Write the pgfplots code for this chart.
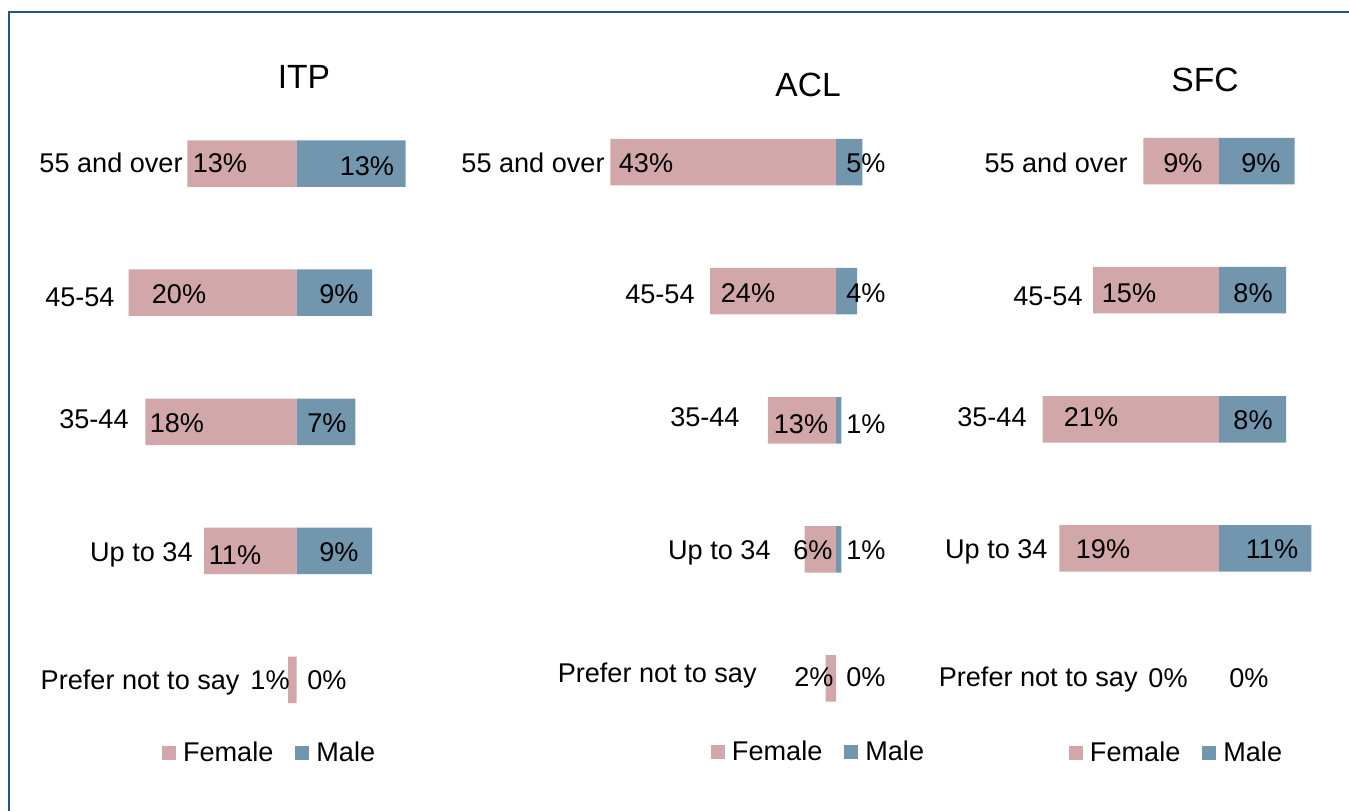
\documentclass[border=0pt]{standalone}
\usepackage{pgfplots}
\pgfplotsset{compat=1.18}
\usepackage{fontspec}
\setmainfont{Liberation Sans}
\definecolor{fem}{RGB}{209,167,169}
\definecolor{mal}{RGB}{113,150,174}
\definecolor{frame}{RGB}{38,86,128}
\newcommand\lf{\fontsize{13.55pt}{16pt}\selectfont}
\newcommand\tf{\fontsize{16.8pt}{20pt}\selectfont}
\pgfplotsset{
  panel/.style={
    xbar, bar shift=0pt, bar width=23.25pt,
    scale only axis, axis lines=none, clip=false,
    ymin=-0.5, ymax=4.5, height=322.75pt,
    xtick=\empty, ytick=\empty,
    anchor=south west,
    legend columns=2,
    legend style={draw=none, fill=none, inner sep=0pt, outer sep=0pt, anchor=west, font=\lf,
      column sep=0pt, cells={anchor=base west}, nodes={inner sep=0pt, text depth=0pt},
      /tikz/every even column/.append style={column sep=11pt}},
    legend image code/.code={\fill[##1] (0pt,0.85pt) rectangle (7pt,7.85pt); \path (10.5pt,0pt);},
  },
}
\tikzset{
  lab/.style={inner sep=0pt, font=\lf, anchor=base, yshift=-4.85pt},
  cat/.style={inner sep=0pt, font=\lf, anchor=base east, yshift=-4.85pt},
  ttl/.style={inner sep=0pt, font=\tf, anchor=base, yshift=-6pt},
}
\begin{document}
\begin{tikzpicture}
\useasboundingbox (0,0) rectangle (674.5pt,405pt);
\draw[frame, line width=1pt] (4.5pt,-2pt) -- (4.5pt,398.75pt) -- (680pt,398.75pt);

% ---------------- ITP ----------------
% zero-valued bars (0%) are not drawn, as in the reference
\begin{axis}[panel, at={(22.25pt,32.73pt)}, width=210pt, xmin=-30, xmax=20,
  legend style={at={(0.2798,-0.0116)}}]
\addplot[fill=fem, draw=none] coordinates {(-13,4) (-20,3) (-18,2) (-11,1) (-1,0)};
\addlegendentry{Female}
\addplot[fill=mal, draw=none] coordinates {(13,4) (9,3) (7,2) (9,1)};
\addlegendentry{Male}
\node[ttl] at (axis cs:0.89,4.671) {ITP};
\node[cat] at (axis cs:-13.51,4.005) {55 and over};
\node[cat] at (axis cs:-21.61,2.967) {45-54};
\node[cat] at (axis cs:-19.94,2.022) {35-44};
\node[cat] at (axis cs:-12.32,0.991) {Up to 34};
\node[cat] at (axis cs:-6.73,0) {Prefer not to say};
\node[lab] at (axis cs:-9.11,4.005) {13\%};
\node[lab] at (axis cs:8.39,3.98) {13\%};
\node[lab] at (axis cs:-13.99,2.99) {20\%};
\node[lab] at (axis cs:5.06,2.99) {9\%};
\node[lab] at (axis cs:-14.23,1.99) {18\%};
\node[lab] at (axis cs:3.63,1.99) {7\%};
\node[lab] at (axis cs:-7.32,0.968) {11\%};
\node[lab] at (axis cs:5.06,0.991) {9\%};
\node[lab] at (axis cs:-3.15,0) {1\%};
\node[lab] at (axis cs:3.63,0) {0\%};
\end{axis}

% ---------------- ACL ----------------
\begin{axis}[panel, at={(286.75pt,33.5pt)}, width=183.75pt, xmin=-50, xmax=20,
  legend style={at={(0.3741,-0.0124)}}]
\addplot[fill=fem, draw=none] coordinates {(-43,4) (-24,3) (-13,2) (-6,1) (-2,0)};
\addlegendentry{Female}
\addplot[fill=mal, draw=none] coordinates {(5,4) (4,3) (1,2) (1,1)};
\addlegendentry{Male}
\node[ttl] at (axis cs:-5.33,4.597) {ACL};
\node[cat] at (axis cs:-44.0,3.993) {55 and over};
\node[cat] at (axis cs:-26.86,2.983) {45-54};
\node[cat] at (axis cs:-18.29,2.026) {35-44};
\node[cat] at (axis cs:-12.38,0.995) {Up to 34};
\node[cat] at (axis cs:-15.05,0.043) {Prefer not to say};
\node[lab] at (axis cs:-36.19,3.993) {43\%};
\node[lab] at (axis cs:5.71,3.993) {5\%};
\node[lab] at (axis cs:-16.76,2.99) {24\%};
\node[lab] at (axis cs:5.71,2.99) {4\%};
\node[lab] at (axis cs:-6.67,1.97) {13\%};
\node[lab] at (axis cs:5.71,1.97) {1\%};
\node[lab] at (axis cs:-4.38,0.995) {6\%};
\node[lab] at (axis cs:5.71,0.995) {1\%};
\node[lab] at (axis cs:-4.19,0.012) {2\%};
\node[lab] at (axis cs:5.71,0.012) {0\%};
\end{axis}

% ---------------- SFC ----------------
\begin{axis}[panel, at={(504.5pt,34pt)}, width=168pt, xmin=-25, xmax=15,
  legend style={at={(0.1785,-0.0156)}}]
\addplot[fill=fem, draw=none] coordinates {(-9,4) (-15,3) (-21,2) (-19,1)};
\addlegendentry{Female}
\addplot[fill=mal, draw=none] coordinates {(9,4) (8,3) (8,2) (11,1)};
\addlegendentry{Male}
\node[ttl] at (axis cs:-1.67,4.628) {SFC};
\node[cat] at (axis cs:-10.83,3.985) {55 and over};
\node[cat] at (axis cs:-16.19,2.959) {45-54};
\node[cat] at (axis cs:-22.86,2.018) {35-44};
\node[cat] at (axis cs:-20.36,0.995) {Up to 34};
\node[cat] at (axis cs:-9.64,0.004) {Prefer not to say};
\node[lab] at (axis cs:-4.29,3.985) {9\%};
\node[lab] at (axis cs:5.0,3.985) {9\%};
\node[lab] at (axis cs:-10.71,2.979) {15\%};
\node[lab] at (axis cs:4.05,2.979) {8\%};
\node[lab] at (axis cs:-15.24,2.018) {21\%};
\node[lab] at (axis cs:4.05,1.995) {8\%};
\node[lab] at (axis cs:-13.81,0.995) {19\%};
\node[lab] at (axis cs:6.31,0.995) {11\%};
\node[lab] at (axis cs:-6.07,0) {0\%};
\node[lab] at (axis cs:3.57,0) {0\%};
\end{axis}
\end{tikzpicture}
\end{document}
